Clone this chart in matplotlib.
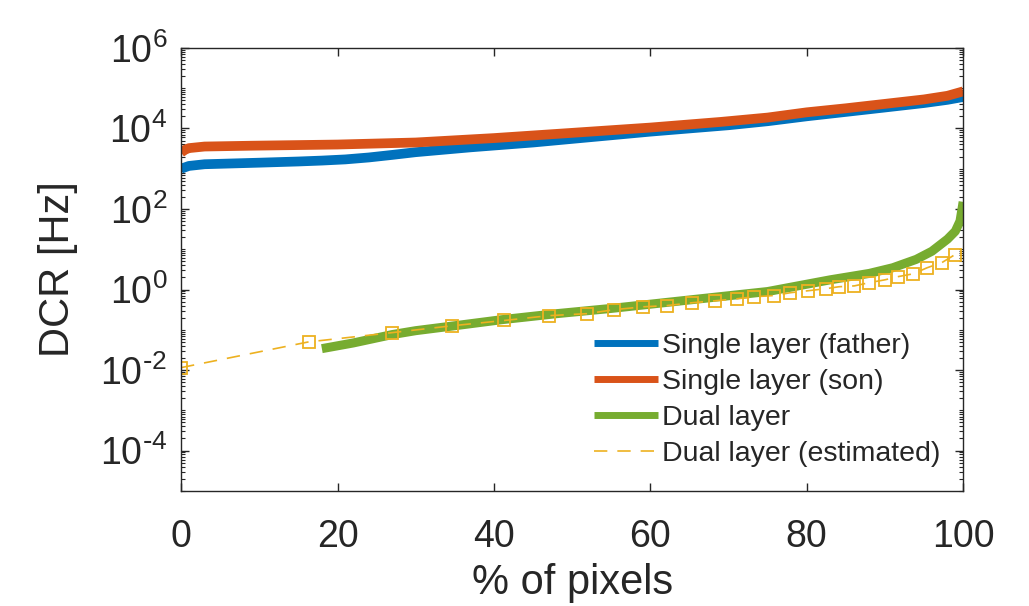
import numpy as np
import matplotlib
matplotlib.use("Agg")
import matplotlib.pyplot as plt
import matplotlib.ticker as ticker
from matplotlib import rcParams

rcParams['font.family'] = ['Liberation Sans', 'DejaVu Sans']
rcParams['mathtext.default'] = 'regular'
rcParams['axes.unicode_minus'] = False

# percentage of pixels / DCR [Hz]
father_x = [0, 1, 3, 10, 15, 18, 21, 24, 27, 30, 37, 45, 50, 55, 60, 65, 70, 75, 80, 85, 90, 95, 98, 100]
father_dcr = [1000, 1170, 1290, 1410, 1510, 1590, 1700, 1900, 2200, 2570, 3390, 4470, 5500, 6760,
              8320, 10000, 12000, 15100, 20000, 25700, 33100, 42700, 51300, 60300]

son_x = [0, 0.5, 1, 3, 9, 20, 30, 40, 50, 60, 69, 75, 80, 85, 90, 95, 98, 100]
son_dcr = [2510, 2950, 3240, 3550, 3720, 3980, 4470, 5750, 7760, 10500, 14500, 18600,
           25100, 31600, 40700, 52500, 64600, 83200]

dual_x = [18, 22, 27, 30, 35, 41, 48, 55, 65, 75, 83, 88, 91, 94, 96, 98, 99, 99.6, 100]
dual_dcr = [0.034, 0.047, 0.076, 0.095, 0.126, 0.178, 0.251, 0.339, 0.55, 0.89, 1.74, 2.51,
            3.47, 5.6, 8.9, 17.8, 28, 50, 150]

est_x = [0, 16.3, 27, 34.7, 41.3, 47, 51.9, 55.4, 59.1, 62.1, 65.3, 68.3, 71.1, 73.3, 75.8,
         77.9, 80.2, 82.5, 84.1, 86.1, 88, 90, 91.7, 93.6, 95.4, 97.3, 98.9]
est_dcr = [0.0115, 0.050, 0.085, 0.126, 0.170, 0.224, 0.251, 0.316, 0.372, 0.398, 0.468, 0.525,
           0.589, 0.661, 0.708, 0.832, 0.933, 1.05, 1.17, 1.23, 1.48, 1.74, 2.09, 2.45, 3.47,
           4.68, 7.24]

labels = ["Single layer (father)", "Single layer (son)", "Dual layer", "Dual layer (estimated)"]
x_ticks = [0, 20, 40, 60, 80, 100]
y_ticks = [1e-4, 1e-2, 1e0, 1e2, 1e4, 1e6]

c_blue = '#0072BD'
c_orange = '#D95319'
c_green = '#77AC30'
c_yellow = '#EDB120'
c_text = '#262626'


def pow10_label(v, _):
    e = int(round(np.log10(v)))
    if e < 0:
        return r"$10^{\text{-}%d}$" % (-e)
    return r"$10^{%d}$" % e


fig = plt.figure(figsize=(10.29, 6.06), dpi=100)
ax = fig.add_axes([0.176, 0.190, 0.760, 0.731])

ax.plot(father_x, father_dcr, color=c_blue, lw=7, solid_capstyle='butt', label=labels[0])
ax.plot(son_x, son_dcr, color=c_orange, lw=7, solid_capstyle='butt', label=labels[1])
ax.plot(dual_x, dual_dcr, color=c_green, lw=6.5, solid_capstyle='butt', label=labels[2])
ax.plot(est_x, est_dcr, color=c_yellow, lw=1.2, dashes=(8, 6), label=labels[3])
ax.plot(est_x, est_dcr, ls='none', marker='s', ms=8, mfc='none', mec=c_yellow, mew=1.3,
        label='_nolegend_')

ax.set_yscale('log')
ax.set_xlim(0, 100)
ax.set_ylim(1e-5, 1e6)
ax.set_xticks(x_ticks)
ax.set_yticks(y_ticks)
ax.yaxis.set_major_formatter(ticker.FuncFormatter(pow10_label))
ax.yaxis.set_minor_locator(ticker.LogLocator(base=10, subs=np.arange(1, 10), numticks=100))
ax.yaxis.set_minor_formatter(ticker.NullFormatter())

for spine in ax.spines.values():
    spine.set_color(c_text)
    spine.set_linewidth(1.0)

ax.tick_params(which='both', direction='in', top=True, right=True, colors=c_text)
ax.tick_params(which='major', length=6, width=1.0, labelsize=27)
ax.tick_params(which='minor', length=3, width=0.8)
ax.tick_params(axis='x', pad=20)
ax.tick_params(axis='y', pad=10)

ax.set_xlabel("% of pixels", fontsize=30, color=c_text, labelpad=6)
ax.set_ylabel("DCR [Hz]", fontsize=30, color=c_text, labelpad=16)

leg = ax.legend(loc='upper left', bbox_to_anchor=(0.528, 0.357), frameon=False,
                fontsize=20.5, handlelength=2.25, handletextpad=0.15, labelspacing=0.36,
                borderpad=0, borderaxespad=0)
for t in leg.get_texts():
    t.set_color(c_text)
for h in leg.get_lines()[:3]:
    h.set_linewidth(5)

fig.savefig("out.png", dpi=100, facecolor='white')
